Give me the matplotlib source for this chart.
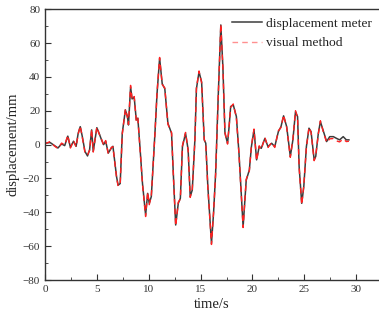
import matplotlib
matplotlib.use("Agg")
import matplotlib.pyplot as plt
from matplotlib.ticker import MultipleLocator

plt.rcParams['font.family'] = ['Liberation Serif', 'DejaVu Serif']

# time (s) and displacement (mm)
time_s = [0.0, 0.5, 0.9, 1.25, 1.6, 1.9, 2.2, 2.45, 2.75, 3.0, 3.2, 3.4, 3.6,
          3.85, 4.1, 4.3, 4.5, 4.65, 5.0, 5.2, 5.45, 5.65, 5.85, 6.1, 6.4,
          6.55, 6.9, 7.05, 7.25, 7.45, 7.75, 7.95, 8.05, 8.25, 8.4, 8.6, 8.8,
          8.95, 9.15, 9.4, 9.7, 9.9, 10.05, 10.25, 10.6, 10.8, 11.05, 11.3,
          11.55, 11.85, 12.2, 12.4, 12.6, 12.85, 13.05, 13.25, 13.55, 13.8,
          14.0, 14.2, 14.45, 14.6, 14.85, 15.1, 15.35, 15.5, 15.7, 16.05,
          16.25, 16.45, 16.7, 16.95, 17.15, 17.35, 17.6, 17.75, 17.9, 18.15,
          18.45, 18.7, 19.1, 19.4, 19.7, 19.9, 20.15, 20.4, 20.65, 20.85,
          21.2, 21.5, 21.85, 22.15, 22.5, 22.75, 23.0, 23.3, 23.65, 23.9,
          24.15, 24.35, 24.5, 24.75, 24.95, 25.2, 25.45, 25.65, 25.95, 26.1,
          26.35, 26.55, 26.8, 27.15, 27.45, 27.8, 28.1, 28.4, 28.75, 29.05,
          29.3]
meter_mm = [0.8, 1.2, -0.5, -2.0, 0.4, -0.6, 5.0, -1.6, 2.0, -1.0, 6.7, 10.6,
            4.7, -4.0, -6.7, -3.0, 8.7, -4.0, 10.0, 7.0, 2.8, 0.0, 2.0, -5.0,
            -2.0, -1.0, -19.0, -24.0, -23.0, 6.7, 20.5, 16.5, 11.6, 34.0, 27.0,
            28.0, 14.6, 15.6, -1.0, -23.0, -41.6, -28.8, -34.7, -30.7, 6.7,
            30.0, 51.0, 36.0, 33.0, 12.6, 6.7, -21.0, -47.5, -34.7, -31.7, -1.2,
            6.7, -3.0, -30.7, -26.8, 2.8, 33.0, 43.0, 37.0, 2.8, 0.8, -24.8,
            -58.3, -40.6, -17.0, 28.4, 70.7, 46.0, 6.7, 0.8, 10.6, 22.5, 23.5,
            16.6, -5.0, -48.5, -21.0, -15.0, -1.2, 8.7, -9.0, -1.2, -2.2, 3.7,
            -1.2, 0.8, -1.2, 7.7, 10.6, 17.0, 10.6, -7.0, 2.8, 19.5, 16.5,
            -13.0, -34.7, -24.8, -1.2, 9.7, 7.7, -9.0, -7.0, 6.7, 13.6, 8.7,
            1.8, 4.7, 4.7, 3.7, 2.8, 4.7, 2.8, 2.8]
visual_mm = [0.5, 1.8, -0.8, -2.3, 0.9, -0.2, 5.5, -2.0, 2.4, -1.4, 6.2, 11.0,
             4.2, -4.5, -6.2, -3.4, 9.2, -4.4, 10.4, 6.6, 3.2, -0.4, 2.4, -5.4,
             -1.6, -1.3, -19.5, -24.5, -23.4, 6.2, 21.0, 16.0, 12.0, 35.0, 26.6,
             28.4, 14.0, 16.0, -1.5, -23.5, -42.5, -28.0, -35.5, -30.2, 6.2,
             30.5, 51.5, 35.5, 33.5, 12.0, 7.2, -21.5, -48.0, -34.0, -32.2, -0.6,
             7.2, -3.5, -31.2, -26.2, 2.2, 33.5, 43.5, 36.5, 3.2, 0.3, -25.3,
             -59.0, -40.0, -17.5, 28.0, 71.2, 45.5, 7.2, 0.3, 11.0, 22.0, 24.0,
             16.0, -5.5, -49.0, -20.5, -15.5, -0.7, 9.2, -9.5, -0.7, -2.7, 4.2,
             -1.7, 1.3, -1.7, 8.2, 10.1, 17.5, 10.1, -7.5, 3.3, 20.0, 16.0,
             -13.5, -35.5, -24.3, -1.7, 10.2, 7.2, -9.5, -6.5, 6.2, 14.1, 8.2,
             1.3, 3.4, 3.6, 2.2, 1.6, 3.3, 1.8, 2.0]

fig = plt.figure(figsize=(3.79, 3.22), dpi=100)
ax = fig.add_axes([0.1187, 0.1304, 0.8813, 0.841])

ax.plot(time_s, meter_mm, color='#3c3c3c', lw=1.1, label='displacement meter')
ax.plot(time_s, visual_mm, color='#ff2020', lw=1.0, ls=(0, (4, 3)),
        label='visual method')

ax.set_xlim(0, 32.2)
ax.set_ylim(-80, 80)
ax.xaxis.set_major_locator(MultipleLocator(5))
ax.xaxis.set_minor_locator(MultipleLocator(2.5))
ax.yaxis.set_major_locator(MultipleLocator(20))
ax.yaxis.set_minor_locator(MultipleLocator(10))
ax.tick_params(which='both', direction='in', colors='#333333', labelsize=8)
ax.tick_params(which='major', length=4)
ax.tick_params(which='minor', length=2.5)
ax.spines['right'].set_visible(False)
for s in ['left', 'bottom', 'top']:
    ax.spines[s].set_color('#333333')
    ax.spines[s].set_linewidth(1.0)

ax.set_xlabel('time/s', fontsize=10.5, color='#222222', labelpad=3)
ax.set_ylabel('displacement/mm', fontsize=10.5, color='#222222', labelpad=2)

leg = ax.legend(loc='upper left', bbox_to_anchor=(0.613, 0.945),
                bbox_transform=fig.transFigure, frameon=False, fontsize=9.7,
                handlelength=2.2, handletextpad=0.3, labelspacing=0.5,
                borderpad=0, borderaxespad=0)
leg.get_lines()[1].set_color('#ff9090')
for t in leg.get_texts():
    t.set_color('#222222')

fig.savefig('out.png', dpi=100)
